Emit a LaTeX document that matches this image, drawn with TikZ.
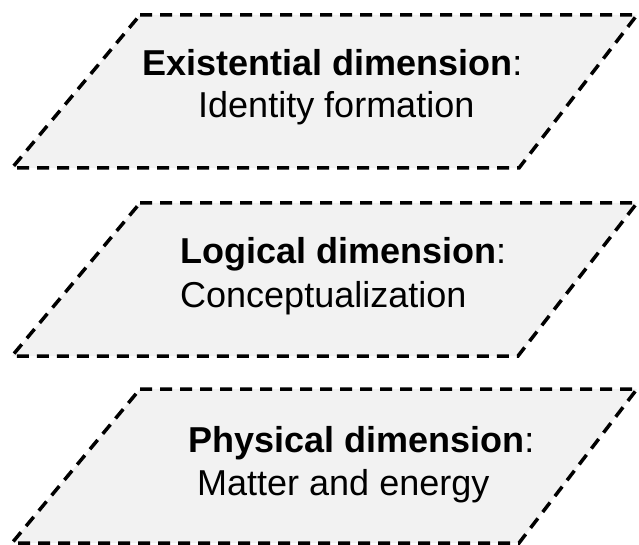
\documentclass[tikz,border=0pt]{standalone}
\usepackage{fontspec}
\setmainfont{Liberation Sans}
\usepackage{xcolor}
\usepackage{tikz}
\definecolor{layerfill}{HTML}{F2F2F2}
\definecolor{ink}{HTML}{000000}
\tikzset{
  layer/.style={draw=ink, fill=layerfill, line width=3.5pt, dash pattern=on 12pt off 8pt, line join=miter},
  head/.style={text=ink, inner sep=0pt, anchor=base west, font=\fontsize{36}{43}\selectfont},
  sub/.style={text=ink, inner sep=0pt, anchor=base west, font=\fontsize{36}{43}\selectfont}
}
\begin{document}
\begin{tikzpicture}[x=1pt,y=1pt]
  \useasboundingbox (0,0) rectangle (639,-545);

  \draw[layer] (140,-15) -- (637,-15) -- (519,-168) -- (12,-168) -- cycle;
  \draw[layer] (140,-203) -- (637,-203) -- (518,-356) -- (12,-356) -- cycle;
  \draw[layer] (140,-389) -- (637,-389) -- (519,-543) -- (12,-543) -- cycle;

  \node[head] (exhead) at (142,-76) {\bfseries Existential dimension\mdseries:};
  \node[sub] (exsub) at (198,-118) {Identity formation};

  \node[head] (lohead) at (180,-263) {\bfseries Logical dimension\mdseries:};
  \node[sub] (losub) at (180,-307) {Conceptualization};

  \node[head] (phhead) at (188,-452) {\bfseries Physical dimension\mdseries:};
  \node[sub] (phsub) at (197,-495) {Matter and energy};
\end{tikzpicture}
\end{document}
